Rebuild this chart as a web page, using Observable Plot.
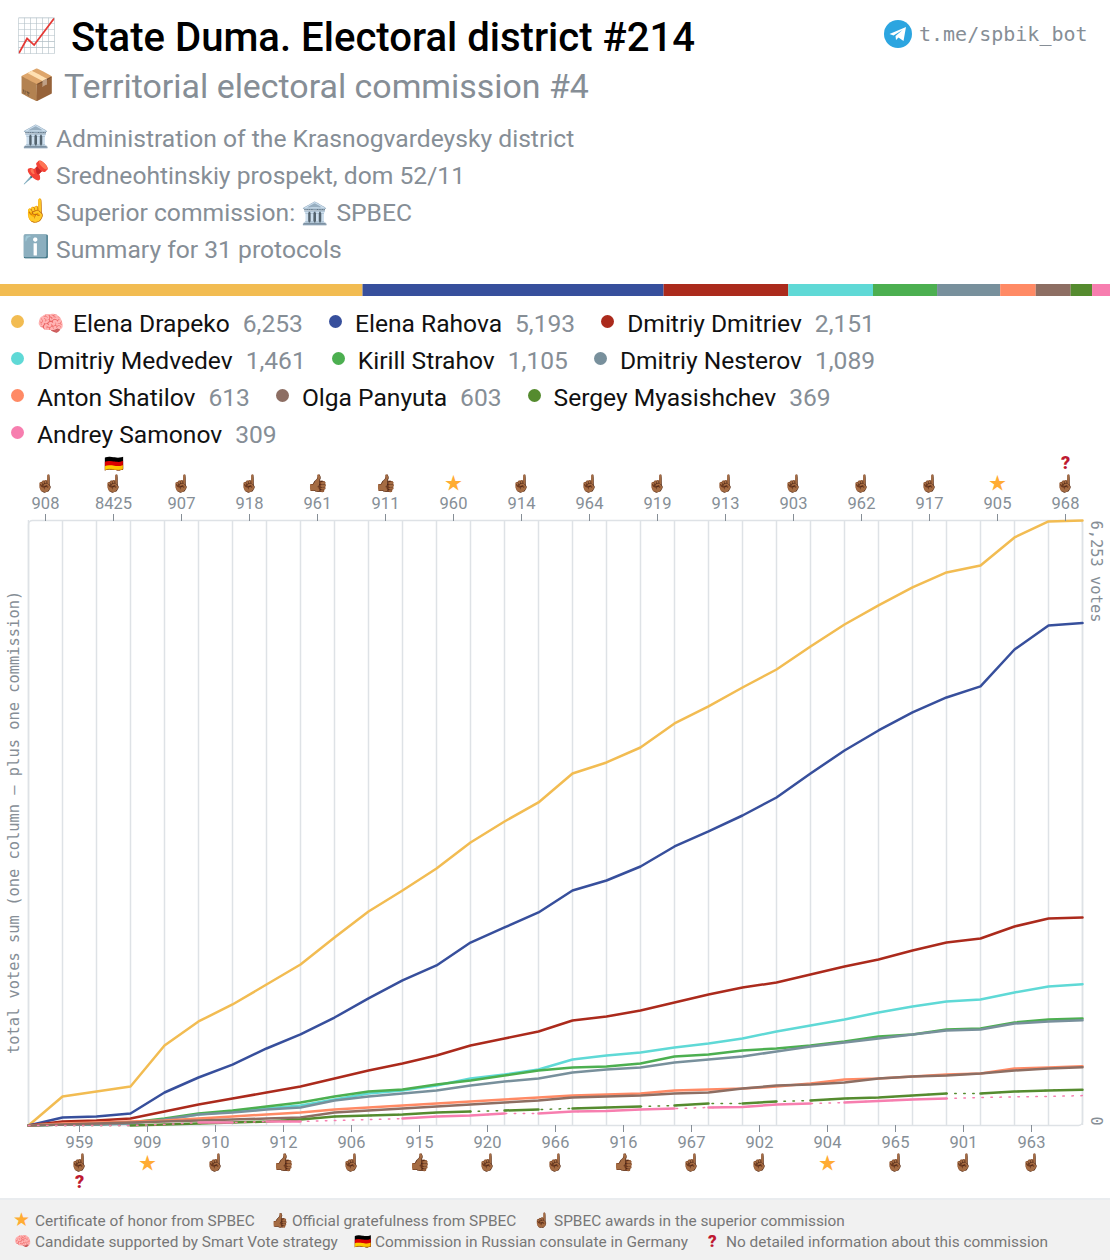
<!DOCTYPE html>
<html><head><meta charset="utf-8">
<script src="https://cdn.jsdelivr.net/npm/d3@7"></script>
<script src="https://cdn.jsdelivr.net/npm/@observablehq/plot@0.6"></script>
<style>
html,body{margin:0;padding:0;background:#fff;font-family:Roboto,sans-serif;width:1110px;height:1260px;overflow:hidden}
#head{position:relative;height:284px}
.abs{position:absolute;white-space:nowrap;line-height:1}
h1{margin:0;font-weight:500;font-size:40.1px;color:#000}
.sub{font-size:33.9px;color:#868e96}
.inf{font-size:24.65px;color:#868e96;left:56px}
.ic{position:absolute;white-space:nowrap;line-height:1}
#tg{position:absolute;left:884px;top:20px}
#tgt{position:absolute;left:919px;top:22px;font:20px "DejaVu Sans Mono",monospace;color:#868e96}
#legend{display:flex;flex-wrap:wrap;padding:9px 0 0 11px;height:156px;box-sizing:border-box;align-content:flex-start}
.li{display:flex;align-items:center;height:37px;margin-right:26px;font-size:24.6px;white-space:nowrap}
.d{width:13px;height:13px;border-radius:50%;margin-right:13px;margin-top:-4px}
.v{color:#868e96;margin-left:13px}
#bar svg,#chart svg{display:block}
#chart{height:746px}
#foot{position:absolute;left:0;top:1198px;width:1110px;height:62px;background:#f1f1f1;border-top:2px solid #e9ecef;box-sizing:border-box;font-size:15.4px;color:#777}
#foot div{position:absolute;white-space:nowrap}
#foot .q{color:#be1931;font-weight:900;font-size:17px}
#foot .s{color:#ffac33;line-height:15px}
</style></head><body>
<div id="head">
<div class="ic" style="left:16px;top:19px;font-size:33px">📈</div>
<h1 class="abs" style="left:71px;top:18px">State Duma. Electoral district #214</h1>
<div class="ic" style="left:18px;top:70px;font-size:30px">📦</div>
<div class="abs sub" style="left:64px;top:70px">Territorial electoral commission #4</div>
<div class="ic" style="left:22px;top:126px;font-size:22px">🏛️</div><div class="abs inf" style="top:127px">Administration of the Krasnogvardeysky district</div>
<div class="ic" style="left:22px;top:162px;font-size:22px">📌</div><div class="abs inf" style="top:164px">Sredneohtinskiy prospekt, dom 52/11</div>
<div class="ic" style="left:22px;top:200px;font-size:22px">☝️</div><div class="abs inf" style="top:201px">Superior commission: <span style="font-size:22px;margin-right:2px">🏛️</span> SPBEC</div>
<div class="ic" style="left:22px;top:236px;font-size:22px">ℹ️</div><div class="abs inf" style="top:238px">Summary for 31 protocols</div>
<svg id="tg" width="28" height="28" viewBox="0 0 28 28"><circle cx="14" cy="14" r="14" fill="#2ca5e0"/><polygon points="5.5,14 22,7 19.5,21 14.5,17.5 12,20 11.5,16 18.5,10 9.5,15.5" fill="#fff"/></svg>
<div id="tgt">t.me/spbik_bot</div>
</div>
<div id="bar"></div>
<div id="legend"></div>
<div id="chart"></div>
<div id="foot">
<div class="s" style="left:13px;top:12px;font-size:19px">★</div><div style="left:35px;top:12px">Certificate of honor from SPBEC</div>
<div style="left:271px;top:12px;font-size:14px">👍🏾</div><div style="left:292px;top:12px">Official gratefulness from SPBEC</div>
<div style="left:533px;top:12px;font-size:14px">☝🏾</div><div style="left:554px;top:12px">SPBEC awards in the superior commission</div>
<div style="left:14px;top:33px;font-size:14px">🧠</div><div style="left:35px;top:33px">Candidate supported by Smart Vote strategy</div>
<div style="left:354px;top:33px;font-size:14px">🇩🇪</div><div style="left:375px;top:33px">Commission in Russian consulate in Germany</div>
<div class="q" style="left:708px;top:31px">?</div><div style="left:726px;top:33px">No detailed information about this commission</div>
</div>
<script>
const candidates=["Elena Drapeko","Elena Rahova","Dmitriy Dmitriev","Dmitriy Medvedev","Kirill Strahov","Dmitriy Nesterov","Anton Shatilov","Olga Panyuta","Sergey Myasishchev","Andrey Samonov"];
const totals=[6253,5193,2151,1461,1105,1089,613,603,369,309];
const colors=["#f2bc52","#374f9c","#ab2a1c","#5fd9d6","#4caf50","#78909c","#ff8a65","#8d6e63","#558b2f","#f77eaf"];
const commissions=["908","959","8425","909","907","910","918","912","961","906","911","915","960","920","914","966","964","916","919","967","913","902","903","904","962","965","917","901","905","963","968"];
const mainIcons=["☝🏾","☝🏾","☝🏾","★","☝🏾","☝🏾","☝🏾","👍🏾","👍🏾","☝🏾","👍🏾","👍🏾","★","☝🏾","☝🏾","☝🏾","☝🏾","👍🏾","☝🏾","☝🏾","☝🏾","☝🏾","☝🏾","★","☝🏾","☝🏾","☝🏾","☝🏾","★","☝🏾","☝🏾"];
const extraIcons={1:"?",2:"🇩🇪",30:"?"};
const drapeko=[0,300,351,403,827,1075,1251,1457,1664,1943,2212,2429,2656,2925,3142,3339,3638,3752,3907,4155,4331,4527,4713,4951,5178,5375,5561,5716,5788,6078,6243,6253];
const rahova=[0,83,93,124,341,496,630,796,941,1116,1313,1499,1654,1891,2047,2202,2429,2532,2677,2884,3039,3204,3390,3638,3876,4083,4269,4424,4538,4920,5168,5193];
const dmitriev=[0,41,52,72,145,217,279,341,403,486,568,641,724,827,899,972,1085,1127,1189,1271,1354,1426,1478,1561,1643,1716,1809,1891,1933,2057,2140,2151];
const medvedev=[0,10,10,21,62,114,145,176,207,269,331,362,413,486,527,579,682,724,755,806,848,899,972,1034,1096,1168,1230,1282,1302,1375,1437,1461];
const strahov=[0,10,10,31,72,124,155,196,238,300,352,372,424,465,517,568,600,610,641,713,734,775,796,827,868,920,941,992,1003,1065,1096,1105];
const nesterov=[0,10,10,21,62,114,134,165,186,258,300,331,362,413,455,486,548,579,600,651,682,713,765,816,858,899,941,982,992,1054,1075,1089];
const shatilov=[0,21,31,41,52,72,93,114,134,165,186,207,227,248,269,289,310,320,331,362,372,382,403,434,475,486,506,527,537,589,600,613];
const panyuta=[0,10,21,31,41,52,62,72,83,134,155,176,196,217,238,258,289,300,310,331,341,382,413,424,444,486,506,517,537,568,589,603];
const myasishchev=[0,0,0,0,10,21,31,41,62,93,103,114,134,145,155,165,176,186,196,207,227,227,248,258,279,289,310,331,331,351,362,369];
const samonov=[0,0,0,0,10,31,31,41,41,52,62,72,93,103,124,124,145,150,165,176,186,191,217,227,238,253,269,279,289,296,300,309];
// commission columns in which the candidate's strand is dotted in the picture
const myasishchevGaps=[0,1,2,13,15,18,20,22,27];
const samonovGaps=[0,1,2,3,4,6,8,9,10,14,19,23,27,28,29,30];
const series=[drapeko,rahova,dmitriev,medvedev,strahov,nesterov,shatilov,panyuta,myasishchev,samonov];
const gaps={8:myasishchevGaps,9:samonovGaps};

const stack=candidates.map((c,i)=>({c,v:totals[i]}));
document.getElementById("bar").append(Plot.plot({width:1110,height:12,margin:0,
  x:{domain:[0,d3.sum(totals)],axis:null},y:{axis:null},color:{domain:candidates,range:colors},
  marks:[Plot.barX(stack,{x:"v",fill:"c",order:null})]}));

const lg=document.getElementById("legend");
candidates.forEach((c,i)=>{const el=document.createElement("div");el.className="li";
  el.innerHTML=`<span class="d" style="background:${colors[i]}"></span>${i==0?'<span style="margin-right:9px;font-size:22px">🧠</span>':''}<span style="color:#111">${c}</span><span class="v">${d3.format(",")(totals[i])}</span>`;
  lg.append(el)});

const marks=[];
marks.push(Plot.ruleX(d3.range(0,32),{stroke:"#dee2e6",strokeWidth:1.5}));
marks.push(Plot.frame({stroke:"#dee2e6",strokeWidth:1.5,rx:4}));
series.forEach((s,k)=>{
  const g=gaps[k];
  if(g){
    marks.push(Plot.line(s.map((v,j)=>({j,v})),{x:"j",y:"v",stroke:colors[k],strokeWidth:1.5,strokeDasharray:"1.5,7.5"}));
    const pts=[];let r=0;
    for(let i=0;i<31;i++){ if(!g.includes(i)){pts.push({j:i,v:s[i],r},{j:i+1,v:s[i+1],r});} else r++; }
    marks.push(Plot.line(pts,{x:"j",y:"v",z:"r",stroke:colors[k],strokeWidth:2.5}));
  } else marks.push(Plot.line(s.map((v,j)=>({j,v})),{x:"j",y:"v",stroke:colors[k],strokeWidth:2.5}));
});
const cols=commissions.map((c,i)=>({c,i,x:i+.5,icon:mainIcons[i],extra:extraIcons[i]||""}));
const topCols=cols.filter(d=>d.i%2==0), botCols=cols.filter(d=>d.i%2==1);
const axisOpts={tickSize:7,label:null,fontSize:16.5,color:"#868e96",fontFamily:"Roboto",tickFormat:x=>commissions[x-.5]};
marks.push(Plot.axisX({anchor:"top",ticks:topCols.map(d=>d.x),tickPadding:5,...axisOpts}));
marks.push(Plot.axisX({anchor:"bottom",ticks:botCols.map(d=>d.x),tickPadding:4,...axisOpts}));
const iconStyle={"☝🏾":{fontSize:16.5,dy:0},"👍🏾":{fontSize:17,dy:0},"★":{fontSize:17.5,fill:"#ffac33",fontFamily:"Noto Sans CJK SC",dy:1}};
const extraStyle={"?":{fontSize:18,fontWeight:900,fill:"#be1931",fontFamily:"Roboto"},"🇩🇪":{fontSize:16}};
for(const [ic,st] of Object.entries(iconStyle)){
  marks.push(Plot.text(topCols.filter(d=>d.icon==ic),{x:"x",y:6253,text:"icon",...st,dy:-37}));
  marks.push(Plot.text(botCols.filter(d=>d.icon==ic),{x:"x",y:0,text:"icon",...st,dy:37+st.dy}));
}
for(const [ic,st] of Object.entries(extraStyle)){
  marks.push(Plot.text(topCols.filter(d=>d.extra==ic),{x:"x",y:6253,text:"extra",dy:-57,...st}));
  marks.push(Plot.text(botCols.filter(d=>d.extra==ic),{x:"x",y:0,text:"extra",dy:57,...st}));
}
marks.push(Plot.text(["total votes sum (one column – plus one commission)"],{x:0,y:[3132],text:d=>d,rotate:-90,dx:-14,fill:"#868e96",fontSize:15.4,fontFamily:"DejaVu Sans Mono"}));
marks.push(Plot.text(["6,253 votes"],{x:31,y:[6253],text:d=>d,rotate:90,dx:13,textAnchor:"start",fill:"#868e96",fontSize:15.4,fontFamily:"DejaVu Sans Mono"}));
marks.push(Plot.text(["0"],{x:31,y:[0],text:d=>d,rotate:90,dx:13,textAnchor:"end",fill:"#868e96",fontSize:15,fontFamily:"DejaVu Sans Mono"}));
document.getElementById("chart").append(Plot.plot({width:1110,height:746,marginLeft:28,marginRight:28,marginTop:68,marginBottom:73,
  x:{domain:[0,31],axis:null},y:{domain:[0,6253],axis:null},style:{background:"transparent",overflow:"visible"},marks}));
</script></body></html>
